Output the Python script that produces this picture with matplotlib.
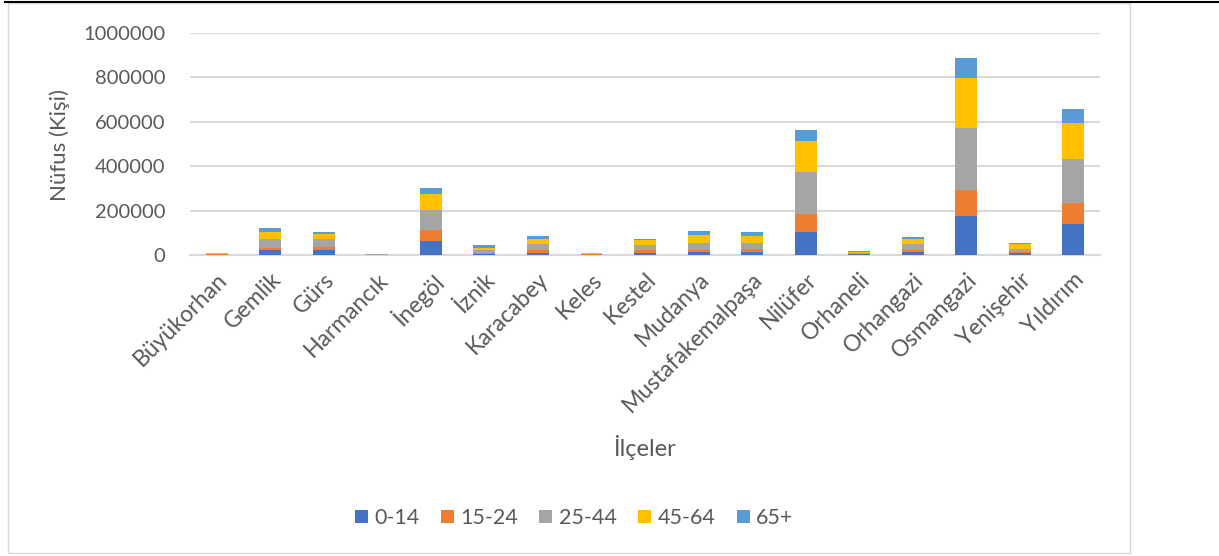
import matplotlib.pyplot as plt
import numpy as np
from matplotlib.lines import Line2D
from matplotlib.patches import Rectangle

plt.rcParams['font.family'] = ['Lato', 'DejaVu Sans']

# districts of Bursa and population by age group
ilceler = ["Büyükorhan", "Gemlik", "Gürs", "Harmancık", "İnegöl", "İznik", "Karacabey",
           "Keles", "Kestel", "Mudanya", "Mustafakemalpaşa", "Nilüfer", "Orhaneli",
           "Orhangazi", "Osmangazi", "Yenişehir", "Yıldırım"]
yas_0_14 = [1500, 21000, 21000, 800, 65000, 3000, 10600, 1400, 10600, 12000, 13600,
            102600, 3000, 12000, 175000, 7500, 140000]
yas_15_24 = [1200, 12000, 17000, 600, 45500, 7600, 13400, 1100, 10400, 12000, 13400,
             82900, 2000, 10600, 117500, 7500, 92000]
yas_25_44 = [2500, 38000, 32000, 1200, 94000, 10400, 24500, 2300, 26000, 30500, 27500,
             188500, 5000, 25400, 280500, 13500, 201000]
yas_45_64 = [2500, 33500, 25500, 1200, 71500, 12000, 21500, 2600, 19700, 33500, 30500,
             139000, 5000, 23000, 225000, 19500, 160000]
yas_65 = [1300, 18500, 9000, 700, 27000, 11000, 15000, 1600, 7300, 21000, 16500,
          49500, 3000, 10500, 90000, 8000, 63000]

seriler = [yas_0_14, yas_15_24, yas_25_44, yas_45_64, yas_65]
etiketler = ["0-14", "15-24", "25-44", "45-64", "65+"]
renkler = ["#4472C4", "#ED7D31", "#A5A5A5", "#FFC000", "#5B9BD5"]

fig = plt.figure(figsize=(12.19, 5.56), dpi=100)
ax = fig.add_axes([0.1559, 0.5414, 0.7465, 0.3992])

x = np.arange(len(ilceler))
alt = np.zeros(len(ilceler))
for veri, ad, renk in zip(seriler, etiketler, renkler):
    ax.bar(x, veri, bottom=alt, width=0.41, color=renk, label=ad,
           linewidth=0, zorder=3)
    alt += np.array(veri)

ax.set_xlim(-0.5, len(ilceler) - 0.5)
ax.set_ylim(0, 1000000)
ax.set_yticks(range(0, 1000001, 200000))
ax.set_yticklabels([str(v) for v in range(0, 1000001, 200000)])
ax.yaxis.grid(True, color='#D9D9D9', linewidth=1.5, zorder=0)
ax.set_xticks(x)
ax.set_xticklabels(ilceler, rotation=45, ha='right', rotation_mode='anchor')

for s in ['top', 'right', 'left']:
    ax.spines[s].set_visible(False)
ax.spines['bottom'].set_color('#D9D9D9')
ax.spines['bottom'].set_linewidth(1.5)
ax.tick_params(axis='both', length=0, labelcolor='#595959')
ax.tick_params(axis='y', pad=18, labelsize=14.5)
ax.tick_params(axis='x', pad=10, labelsize=16.5)

fig.text(0.049, 0.74, "Nüfus (Kişi)", rotation=90, ha='center', va='center',
         fontsize=16, color='#595959')
fig.text(0.529, 0.196, "İlçeler", ha='center', va='center', fontsize=17, color='#595959')

fig.legend(loc='center', bbox_to_anchor=(0.471, 0.068), ncol=5, frameon=False,
           fontsize=15.5, labelcolor='#595959', handlelength=0.6, handleheight=0.6,
           handletextpad=0.3, columnspacing=1.0)

# chart border and black line on top
fig.patches.append(Rectangle((8 / 1219, 3 / 556), 1122 / 1219, 550 / 556,
                             transform=fig.transFigure, fill=False,
                             edgecolor='#D9D9D9', linewidth=1))
fig.lines.append(Line2D([5 / 1219, 1], [1 - 2 / 556, 1 - 2 / 556],
                        transform=fig.transFigure, color='black', linewidth=1.5))

fig.savefig("out.png", dpi=100)
